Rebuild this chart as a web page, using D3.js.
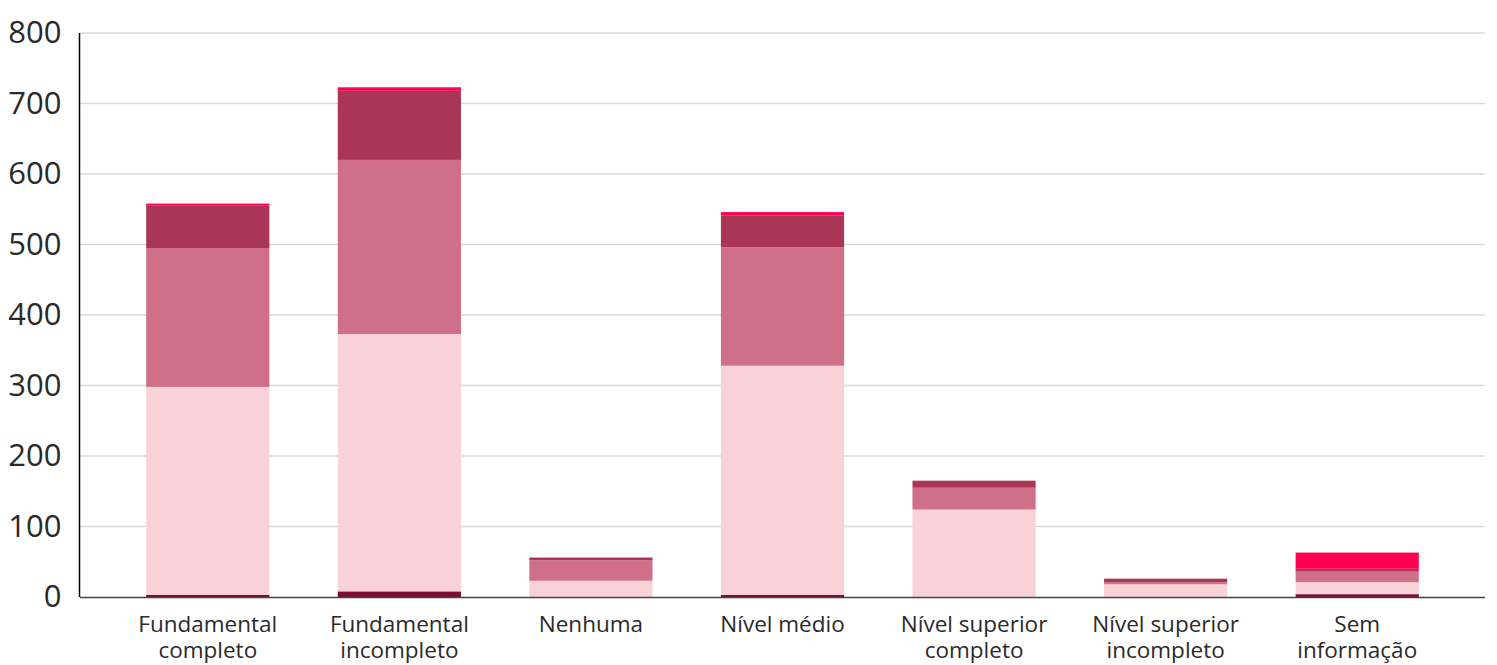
<!DOCTYPE html>
<html><head><meta charset="utf-8">
<script src="https://cdn.jsdelivr.net/npm/d3@7"></script>
<style>body{margin:0;background:#fff}svg{display:block}</style>
</head><body><svg id="c" width="1497" height="665"></svg>
<script>
const categories = ["Fundamental completo","Fundamental incompleto","Nenhuma","Nível médio","Nível superior completo","Nível superior incompleto","Sem informação"];
const labelLines = [["Fundamental","completo"],["Fundamental","incompleto"],["Nenhuma"],["Nível médio"],["Nível superior","completo"],["Nível superior","incompleto"],["Sem","informação"]];
const seriesNames = ["s1","s2","s3","s4","s5"];
const s1 = [3, 8, 0, 3, 0, 0, 4];
const s2 = [295, 365, 23, 325, 124, 18, 17];
const s3 = [197, 247, 29, 168, 31, 3, 15];
const s4 = [60, 98, 4, 45, 10, 5, 4];
const s5 = [3, 5, 0, 5, 0, 0, 23];
const colors = ["#7b0c30","#f9d2d8","#cf6f88","#a83654","#ff0050"];
const yTicks = [0,100,200,300,400,500,600,700,800];

const svg = d3.select("#c");
const x = d3.scaleBand().domain(categories).range([112,1453]).paddingInner(0.357).paddingOuter(0.1785);
const y = d3.scaleLinear().domain([0,800]).range([597,33]);
const font = "'Open Sans', 'Noto Sans', sans-serif";

// gridlines
svg.append("g").selectAll("line").data(yTicks.filter(d=>d>0)).join("line")
  .attr("x1",80).attr("x2",1485).attr("y1",d=>y(d)).attr("y2",d=>y(d))
  .attr("stroke","#d9d9d9").attr("stroke-width",1.5);

const data = categories.map((c,i)=>({cat:c,s1:s1[i],s2:s2[i],s3:s3[i],s4:s4[i],s5:s5[i]}));
const stack = d3.stack().keys(seriesNames)(data);
svg.append("g").selectAll("g").data(stack).join("g").attr("fill",(d,i)=>colors[i])
  .selectAll("rect").data(d=>d.filter(e=>e[1]-e[0]>0)).join("rect")
  .attr("x",d=>x(d.data.cat)).attr("width",x.bandwidth())
  .attr("y",d=>y(d[1])).attr("height",d=>y(d[0])-y(d[1]));

// y axis
const ya = svg.append("g").attr("transform","translate(79.5,0)")
  .call(d3.axisLeft(y).tickValues(yTicks).tickSize(0).tickPadding(18));
ya.select(".domain").attr("stroke","#000").attr("stroke-width",1.5).attr("d","M0,33V597");
ya.selectAll("text").attr("font-family",font).attr("font-size",31).attr("fill","#2a2a2a");

// baseline
svg.append("line").attr("x1",80).attr("x2",1485).attr("y1",597.5).attr("y2",597.5)
  .attr("stroke","#444").attr("stroke-width",1.5);

// x labels (one text element per line)
const xl = svg.append("g");
categories.forEach((c,i)=>{
  labelLines[i].forEach((l,j)=>{
    xl.append("text").attr("x",x(c)+x.bandwidth()/2).attr("y",632+j*26)
      .attr("text-anchor","middle").attr("font-family",font).attr("font-size",22.5)
      .attr("fill","#2a2a2a").text(l);
  });
});
</script></body></html>
